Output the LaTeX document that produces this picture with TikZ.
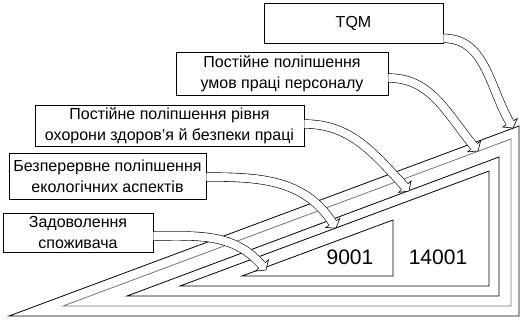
\documentclass[tikz,border=0pt]{standalone}
\usepackage{fontspec}
\setmainfont{Liberation Sans}
\usetikzlibrary{calc}
\newcommand{\bandarrow}[3]{%
  \pgfmathsetmacro\bandback{#3+180}%
  \pgfmathsetmacro\bandup{#3+90}%
  \pgfmathsetmacro\banddown{#3-90}%
  \coordinate (bb) at ($(#2)+(\bandback:6)$);
  \draw[band] (#1) to[out=0,in=\bandback] (bb);
  \filldraw[fill=white, line width=0.6pt, line join=miter]
    ($(bb)+(\bandup:4.3)$) -- ($(bb)+(\bandup:8.5)$) -- (#2)
    -- ($(bb)+(\banddown:8.5)$) -- ($(bb)+(\banddown:4.3)$);
}
\begin{document}
\begin{tikzpicture}[x=1pt,y=1pt,
  box/.style={draw, line width=0.7pt, align=center, font=\fontsize{16}{21}\selectfont, inner sep=0pt},
  band/.style={draw=black, double=white, double distance=8pt, line width=0.6pt},
  tri/.style={line width=0.8pt, line join=miter},
  num/.style={font=\fontsize{21}{25}\selectfont, inner sep=0pt}]
\useasboundingbox (0,0) rectangle (524,-319);
% nested triangles
\draw[tri] (9,-316) -- (519,-316) -- (519,-126) -- cycle;
\draw[tri, draw=black!55] (63,-306) -- (511,-306) -- (511,-139) -- cycle;
\draw[tri] (127,-296) -- (499,-296) -- (499,-157) -- cycle;
\draw[tri] (180,-286) -- (489,-286) -- (489,-171) -- cycle;
\draw[tri] (242,-276) -- (393,-276) -- (393,-220) -- cycle;
\node[num] (n9001) at (350,-257) {9001};
\node[num] (n14001) at (438,-257) {14001};
% boxes
\node[box, minimum width=179pt, minimum height=40pt] (tqm) at (353.5,-23) {TQM};
\node[box, minimum width=212pt, minimum height=43pt] (b2) at (282,-73.5) {Постійне поліпшення\\умов праці персоналу};
\node[box, minimum width=269pt, minimum height=41pt] (b3) at (169.5,-125.5) {Постійне поліпшення рівня\\охорони здоров'я й безпеки праці};
\node[box, minimum width=197pt, minimum height=46pt] (b4) at (107.5,-176) {Безперервне поліпшення\\екологічних аспектів};
\node[box, minimum width=150pt, minimum height=39pt] (b5) at (78,-232.5) {Задоволення\\споживача};
% arrow ends
\coordinate (s1) at ($(tqm.south east)+(0,5)$);
\coordinate (s2) at ($(b2.east)+(0,-4.5)$);
\coordinate (s3) at ($(b3.east)+(0,1.5)$);
\coordinate (s4) at ($(b4.east)+(0,-1)$);
\coordinate (s5) at ($(b5.east)+(0,-3.5)$);
\coordinate (e1) at (513,-128);
\coordinate (e2) at (478,-151);
\coordinate (e3) at (409,-191);
\coordinate (e4) at (336,-228);
\coordinate (e5) at (266,-270);
\bandarrow{s1}{e1}{-60}
\bandarrow{s2}{e2}{-50}
\bandarrow{s3}{e3}{-47}
\bandarrow{s4}{e4}{-57}
\bandarrow{s5}{e5}{-49}
\end{tikzpicture}
\end{document}
